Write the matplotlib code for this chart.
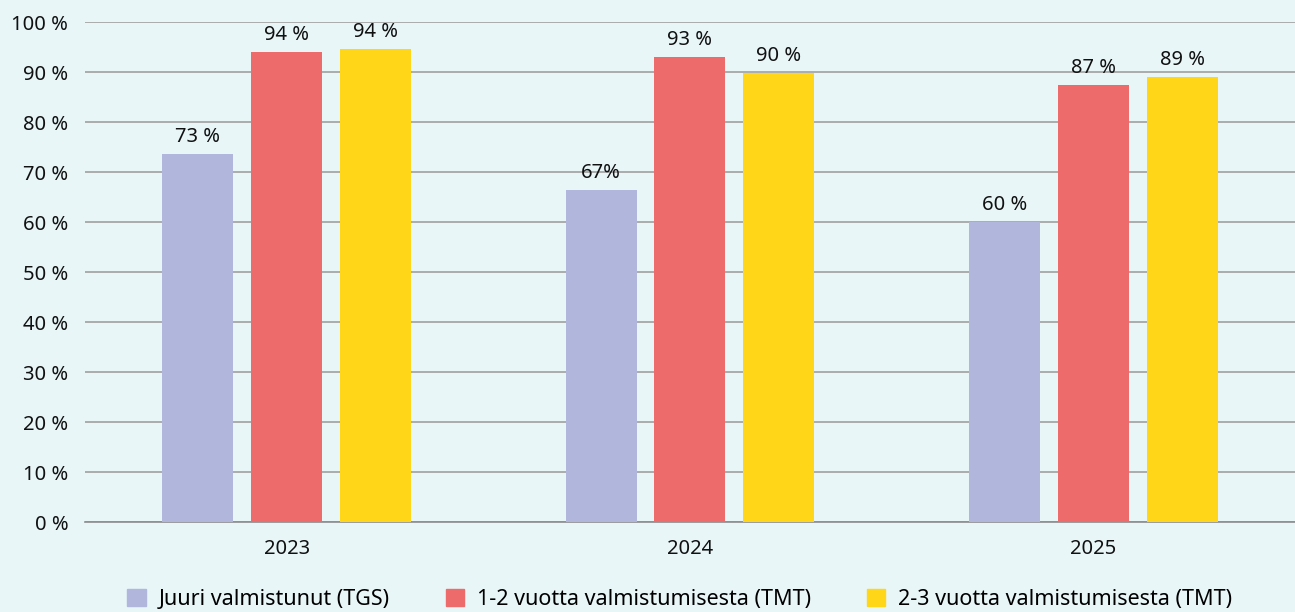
import numpy as np
import matplotlib.pyplot as plt
from matplotlib.patches import Patch

plt.rcParams['font.family'] = ['Noto Sans', 'DejaVu Sans']

# Data
years = ['2023', '2024', '2025']
series = ['Juuri valmistunut (TGS)', '1-2 vuotta valmistumisesta (TMT)',
          '2-3 vuotta valmistumisesta (TMT)']
tgs = [73.7, 66.4, 60.0]
tmt_12 = [94.0, 93.0, 87.4]
tmt_23 = [94.7, 89.8, 89.0]
labels_tgs = ['73 %', '67%', '60 %']
labels_12 = ['94 %', '93 %', '87 %']
labels_23 = ['94 %', '90 %', '89 %']

colors = ['#b0b6dc', '#ee6b6b', '#ffd618']
bg = '#e8f6f8'

fig = plt.figure(figsize=(12.95, 6.12), dpi=100, facecolor=bg)
ax = fig.add_axes([0.0656, 0.147, 0.9344, 0.817])
ax.set_facecolor(bg)

x = np.arange(len(years))
width = 0.176
step = 0.22
for i, (vals, labs) in enumerate([(tgs, labels_tgs), (tmt_12, labels_12), (tmt_23, labels_23)]):
    pos = x + (i - 1) * step
    bars = ax.bar(pos, vals, width, color=colors[i], zorder=3)
    for b, lab in zip(bars, labs):
        ax.annotate(lab, (b.get_x() + b.get_width() / 2, b.get_height()),
                    xytext=(0, 5), textcoords='offset points',
                    ha='center', va='bottom', fontsize=14.5, color='#111111')

ax.set_xlim(-0.5, 2.5)
ax.set_ylim(0, 100)
ax.set_yticks(range(0, 101, 10))
ax.set_yticklabels([f'{v} %' for v in range(0, 101, 10)])
ax.set_xticks(x)
ax.set_xticklabels(years)
ax.tick_params(axis='both', length=0, labelsize=14.5, colors='#111111')
ax.tick_params(axis='y', pad=12)
ax.tick_params(axis='x', pad=12)
ax.grid(axis='y', color='#a0a0a0', linewidth=1.2, zorder=0)
for s in ['top', 'right', 'left']:
    ax.spines[s].set_visible(False)
ax.spines['bottom'].set_color('#8c8c8c')
ax.spines['bottom'].set_linewidth(1.2)

handles = [Patch(color=c) for c in colors]
fig.legend(handles, series, loc='center', bbox_to_anchor=(0.525, 0.02), ncol=3,
           frameon=False, fontsize=15.5, handlelength=0.85, handleheight=0.85,
           handletextpad=0.6, columnspacing=2.6)

fig.savefig('out.png', dpi=100, facecolor=bg)
